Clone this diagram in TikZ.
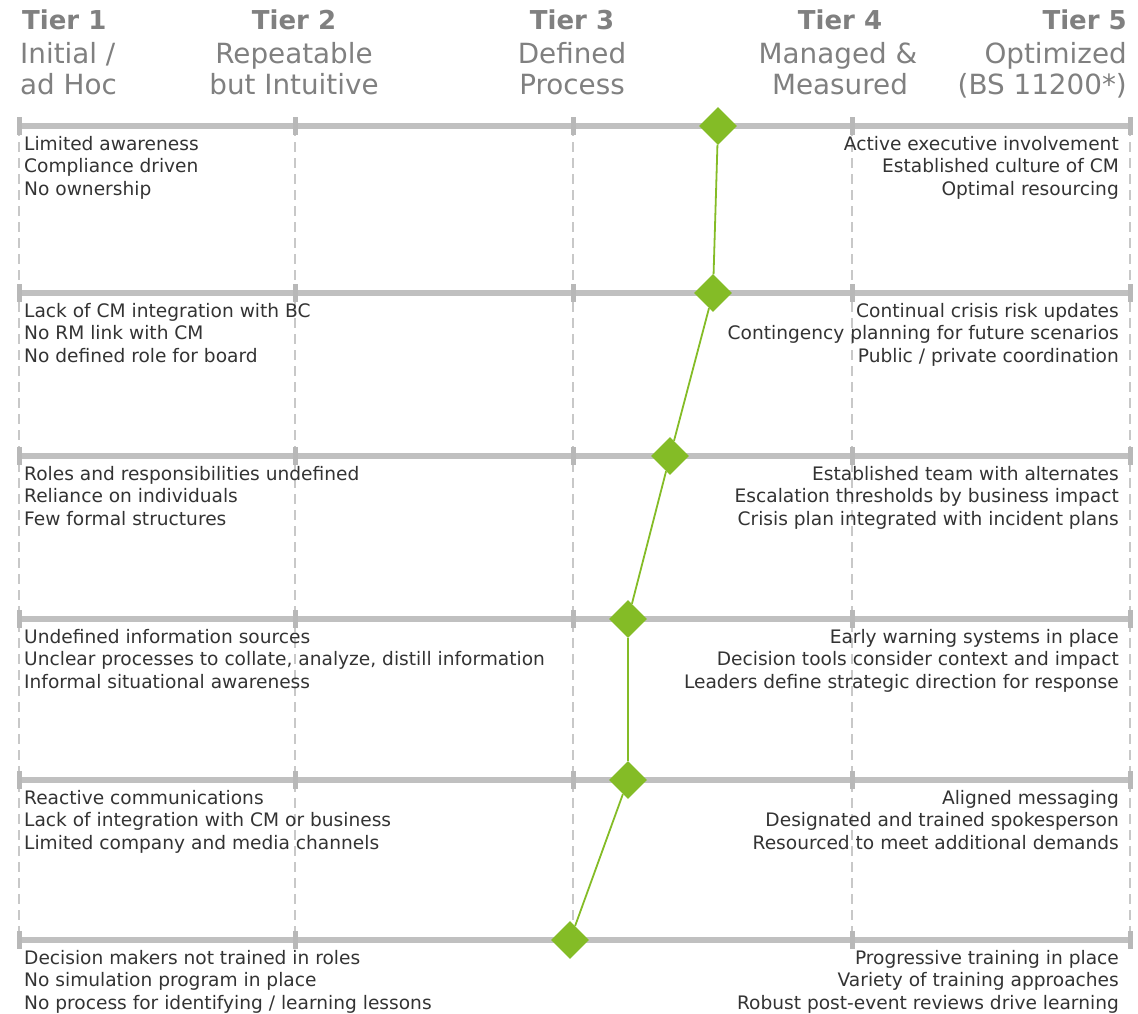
\documentclass[tikz,border=0pt]{standalone}
\usepackage{fontspec}
\setmainfont{DejaVu Sans}
\usetikzlibrary{shapes.geometric}
\definecolor{rulegray}{HTML}{C0C0C0}
\definecolor{tickgray}{HTML}{B8B8B8}
\definecolor{dashgray}{HTML}{C8C8C8}
\definecolor{headgray}{HTML}{808080}
\definecolor{bodytext}{HTML}{333333}
\definecolor{levelgreen}{HTML}{84BC26}
\tikzset{
  x=1pt, y=-1pt,
  tierline/.style={draw=dashgray, line width=2.5pt, dash pattern=on 10pt off 6pt},
  rowrule/.style={draw=rulegray, line width=5.5pt},
  tick/.style={fill=tickgray},
  tiertitle/.style={inner sep=0pt, text=headgray, font=\fontsize{26}{30}\selectfont\bfseries},
  tiersub/.style={inner sep=0pt, text=headgray, font=\fontsize{27.8}{31}\selectfont},
  lefttxt/.style={inner sep=0pt, anchor=base west, text=bodytext, font=\fontsize{18.6}{22}\selectfont},
  righttxt/.style={inner sep=0pt, anchor=base east, text=bodytext, font=\fontsize{18.6}{22}\selectfont},
  level/.style={diamond, fill=levelgreen, inner sep=0pt, minimum width=38pt, minimum height=38pt},
  link/.style={draw=levelgreen, line width=1.8pt}
}
% three lines on each side below a row rule
\newcommand\rowtexts[8]{%
  \node[lefttxt]  (#1la) at (24,#2+24)   {#3};
  \node[lefttxt]  (#1lb) at (24,#2+46.5) {#4};
  \node[lefttxt]  (#1lc) at (24,#2+69)   {#5};
  \node[righttxt] (#1ra) at (1119,#2+24)   {#6};
  \node[righttxt] (#1rb) at (1119,#2+46.5) {#7};
  \node[righttxt] (#1rc) at (1119,#2+69)   {#8};
}
\begin{document}
\begin{tikzpicture}
\useasboundingbox (0,0) rectangle (1138,1013);

% tier headings
\node[tiertitle, anchor=base west] (t1) at (22,29) {Tier 1};
\node[tiersub, anchor=base west] (t1a) at (20,63) {Initial /};
\node[tiersub, anchor=base west] (t1b) at (20,94) {ad Hoc};
\node[tiertitle, anchor=base] (t2) at (294,29) {Tier 2};
\node[tiersub, anchor=base] (t2a) at (294,63) {Repeatable};
\node[tiersub, anchor=base] (t2b) at (294,94) {but Intuitive};
\node[tiertitle, anchor=base] (t3) at (572,29) {Tier 3};
\node[tiersub, anchor=base] (t3a) at (572,63) {Defined};
\node[tiersub, anchor=base] (t3b) at (572,94) {Process};
\node[tiertitle, anchor=base] (t4) at (840,29) {Tier 4};
\node[tiersub, anchor=base] (t4a) at (838,63) {Managed \&};
\node[tiersub, anchor=base] (t4b) at (840,94) {Measured};
\node[tiertitle, anchor=base east] (t5) at (1127,29) {Tier 5};
\node[tiersub, anchor=base east] (t5a) at (1127,63) {Optimized};
\node[tiersub, anchor=base east] (t5b) at (1127,94) {(BS 11200*)};

% dashed tier boundaries
\foreach \x in {19,295,573,852,1130}
  \draw[tierline] (\x,126) -- (\x,940);

% row rules with ticks at each boundary
\foreach \y in {126,293,456,619,780,940}{
  \draw[rowrule] (19,\y) -- (1130,\y);
  \foreach \x in {19,295,573,852,1130}
    \fill[tick] (\x-2.5,\y-9) rectangle (\x+2.5,\y+9);
}

% row descriptions
\rowtexts{r1}{126}{Limited awareness}{Compliance driven}{No ownership}
  {Active executive involvement}{Established culture of CM}{Optimal resourcing}
\rowtexts{r2}{293}{Lack of CM integration with BC}{No RM link with CM}{No defined role for board}
  {Continual crisis risk updates}{Contingency planning for future scenarios}{Public / private coordination}
\rowtexts{r3}{456}{Roles and responsibilities undefined}{Reliance on individuals}{Few formal structures}
  {Established team with alternates}{Escalation thresholds by business impact}{Crisis plan integrated with incident plans}
\rowtexts{r4}{619}{Undefined information sources}{Unclear processes to collate, analyze, distill information}{Informal situational awareness}
  {Early warning systems in place}{Decision tools consider context and impact}{Leaders define strategic direction for response}
\rowtexts{r5}{780}{Reactive communications}{Lack of integration with CM or business}{Limited company and media channels}
  {Aligned messaging}{Designated and trained spokesperson}{Resourced to meet additional demands}
\rowtexts{r6}{940}{Decision makers not trained in roles}{No simulation program in place}{No process for identifying / learning lessons}
  {Progressive training in place}{Variety of training approaches}{Robust post-event reviews drive learning}

% maturity levels
\node[level] (d1) at (718,126) {};
\node[level] (d2) at (713,293) {};
\node[level] (d3) at (670,456) {};
\node[level] (d4) at (628,619) {};
\node[level] (d5) at (628,780) {};
\node[level] (d6) at (570,940) {};
\draw[link] (d1) -- (d2) -- (d3) -- (d4) -- (d5) -- (d6);
\end{tikzpicture}
\end{document}
